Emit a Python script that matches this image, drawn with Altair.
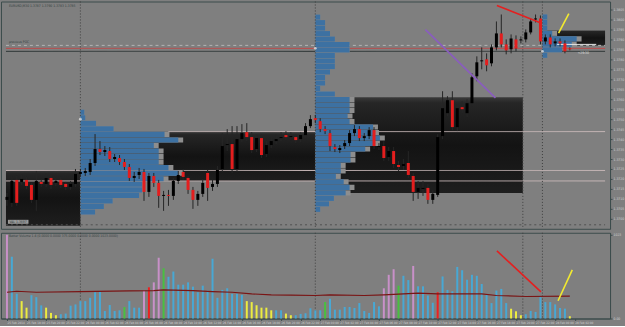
import altair as alt
import pandas as pd

BG = "#7f7f7f"

# ---------------- candle data (M30 bars) ----------------
opens = [1.37095,1.37080,1.37195,1.37185,1.37195,1.37170,1.37095,1.37185,1.37175,1.37205,
1.37180,1.37195,1.37175,1.37160,1.37175,1.37225,1.37230,1.37235,1.37280,1.37350,
1.37335,1.37340,1.37300,1.37305,1.37285,1.37260,1.37205,1.37220,1.37235,1.37135,
1.37215,1.37180,1.37115,1.37120,1.37115,1.37190,1.37235,1.37205,1.37145,1.37095,
1.37125,1.37230,1.37160,1.37175,1.37250,1.37370,1.37375,1.37250,1.37400,1.37435,
1.37410,1.37350,1.37405,1.37325,1.37370,1.37390,1.37405,1.37420,1.37410,1.37410,
1.37400,1.37420,1.37465,1.37505,1.37490,1.37450,1.37430,1.37360,1.37345,1.37365,
1.37380,1.37430,1.37450,1.37405,1.37415,1.37445,1.37360,1.37365,1.37310,1.37340,
1.37270,1.37265,1.37280,1.37215,1.37135,1.37150,1.37155,1.37095,1.37120,1.37415,
1.37530,1.37595,1.37460,1.37560,1.37530,1.37580,1.37715,1.37790,1.37800,1.37780,
1.37860,1.37930,1.37875,1.37850,1.37900,1.37895,1.37900,1.37935,1.38000,1.38005,
1.37890,1.37910,1.37880,1.37890,1.37880,1.37855]
highs = [1.37130,1.37210,1.37215,1.37220,1.37210,1.37180,1.37240,1.37200,1.37225,1.37230,
1.37205,1.37210,1.37185,1.37190,1.37250,1.37250,1.37255,1.37300,1.37425,1.37390,
1.37365,1.37360,1.37325,1.37320,1.37300,1.37275,1.37235,1.37255,1.37250,1.37230,
1.37230,1.37195,1.37140,1.37145,1.37205,1.37240,1.37250,1.37215,1.37160,1.37140,
1.37200,1.37245,1.37195,1.37265,1.37430,1.37450,1.37465,1.37465,1.37475,1.37480,
1.37435,1.37425,1.37425,1.37390,1.37410,1.37425,1.37435,1.37440,1.37435,1.37425,
1.37435,1.37480,1.37520,1.37520,1.37505,1.37465,1.37445,1.37375,1.37370,1.37395,
1.37445,1.37470,1.37465,1.37430,1.37460,1.37460,1.37380,1.37390,1.37360,1.37360,
1.37290,1.37300,1.37340,1.37230,1.37190,1.37190,1.37175,1.37145,1.37425,1.37640,
1.37615,1.37640,1.37575,1.37590,1.37600,1.37730,1.37815,1.37860,1.37830,1.37875,
1.37990,1.38025,1.37900,1.37925,1.37920,1.37915,1.37950,1.38005,1.38025,1.38020,
1.37925,1.37925,1.37905,1.37905,1.37895,1.37860]
lows = [1.37065,1.37060,1.37065,1.37170,1.37150,1.37080,1.37040,1.37160,1.37160,1.37150,
1.37165,1.37155,1.37145,1.37145,1.37160,1.37210,1.37215,1.37220,1.37265,1.37320,
1.37315,1.37285,1.37285,1.37270,1.37245,1.37190,1.37185,1.37200,1.37090,1.37110,
1.37160,1.37055,1.37040,1.37065,1.37095,1.37175,1.37195,1.37125,1.37050,1.37065,
1.37110,1.37090,1.37140,1.37160,1.37235,1.37340,1.37230,1.37235,1.37385,1.37390,
1.37330,1.37335,1.37305,1.37310,1.37355,1.37375,1.37390,1.37395,1.37395,1.37380,
1.37385,1.37405,1.37455,1.37480,1.37435,1.37425,1.37340,1.37335,1.37330,1.37350,
1.37365,1.37415,1.37390,1.37390,1.37400,1.37350,1.37345,1.37290,1.37290,1.37255,
1.37240,1.37245,1.37205,1.37090,1.37100,1.37115,1.37075,1.37075,1.37110,1.37400,
1.37515,1.37445,1.37440,1.37530,1.37510,1.37565,1.37690,1.37750,1.37740,1.37765,
1.37845,1.37860,1.37825,1.37830,1.37840,1.37880,1.37885,1.37925,1.37985,1.37875,
1.37875,1.37860,1.37865,1.37865,1.37830,1.37845]
closes = [1.37110,1.37190,1.37080,1.37200,1.37165,1.37095,1.37190,1.37175,1.37205,1.37170,
1.37190,1.37170,1.37160,1.37175,1.37225,1.37235,1.37240,1.37280,1.37350,1.37335,
1.37345,1.37300,1.37310,1.37285,1.37260,1.37205,1.37215,1.37235,1.37135,1.37215,
1.37180,1.37115,1.37120,1.37115,1.37190,1.37220,1.37210,1.37145,1.37095,1.37125,
1.37180,1.37155,1.37175,1.37245,1.37365,1.37375,1.37250,1.37400,1.37430,1.37410,
1.37345,1.37405,1.37320,1.37370,1.37390,1.37400,1.37410,1.37410,1.37415,1.37395,
1.37420,1.37465,1.37500,1.37495,1.37450,1.37440,1.37365,1.37350,1.37355,1.37380,
1.37430,1.37450,1.37405,1.37415,1.37445,1.37365,1.37365,1.37305,1.37340,1.37275,
1.37260,1.37275,1.37220,1.37135,1.37155,1.37155,1.37095,1.37125,1.37410,1.37555,
1.37595,1.37460,1.37555,1.37550,1.37580,1.37710,1.37785,1.37795,1.37770,1.37860,
1.37930,1.37875,1.37845,1.37905,1.37855,1.37900,1.37935,1.37990,1.38005,1.37890,
1.37910,1.37875,1.37890,1.37880,1.37840,1.37850]

# ---------------- volume data ----------------
volumes = [1020,752,300,212,132,284,260,160,132,68,
40,52,60,156,172,212,212,252,320,332,
92,164,92,100,140,212,132,132,340,380,
440,740,612,508,572,412,412,440,388,320,
400,340,728,252,348,368,300,300,288,212,
200,160,132,132,100,100,100,60,40,40,
56,64,124,100,100,200,240,108,108,140,
140,128,188,92,68,200,148,368,532,600,
400,520,468,640,392,392,280,192,320,512,
348,332,628,588,472,532,520,420,300,188,
340,360,188,120,88,40,52,92,80,260,
200,200,172,128,120,28]
vol_kind = (["climax"] + ["normal"] * 2 + ["low"] * 2 + ["normal"] * 3 + ["low"] * 3
            + ["normal"] * 13 + ["churn"] + ["normal"] * 3 + ["climax", "up", "climax", "climax", "churn"]
            + ["normal"] * 16 + ["low"] * 6 + ["normal"] * 2 + ["low"] * 2 + ["normal"] * 6
            + ["churn"] + ["normal"] * 11 + ["climax"] * 3 + ["churn"] + ["normal"] * 2 + ["climax"]
            + ["normal"] * 4 + ["up"] + ["normal"] * 14 + ["low"] * 3 + ["normal"] * 9 + ["low"])
vol_colors = {"normal": "#48a8d4", "low": "#ecec40", "climax": "#c890c8", "churn": "#48c040", "up": "#ee2020"}
ma_bar = [0, 2, 6, 15, 25, 30, 32, 38, 42, 46, 50, 54, 58, 63, 66, 73, 77, 81, 84, 88, 97, 100, 106, 115]
ma_val = [320, 332, 320, 328, 336, 340, 348, 340, 328, 320, 300, 288, 284, 280, 288, 280, 288, 300, 308, 300, 300, 280, 268, 272]

# ---------------- volume profiles ----------------
prof2_w = [0.8, 1, 3.2, 6.8, 17.2, 20, 15, 16, 16, 16, 18, 20, 17, 12.6, 12.6, 12, 6.6, 4.8, 3]
prof3_w = [1, 2, 2, 3, 4, 7, 7, 4, 4, 4, 3, 2, 2, 1, 4, 7, 7, 7, 6.6, 7, 11.8, 12, 13.2, 12.2,
           10.2, 7.2, 7.2, 5.2, 5.2, 4.2, 5.8, 7, 6.2, 3.8, 2.8, 1]
prof4_w = [1, 1, 1, 2, 7, 6, 4, 1]
profiles = [
    # start bar, top price, row step, widths, value-area rows
    (15.0, 1.375485, 0.000278, prof2_w, range(4, 13)),
    (63.0, 1.380255, 0.0002755, prof3_w, range(15, 33)),
    (109.4, 1.380265, 0.000275, prof4_w, range(3, 6)),
]

# value-area boxes: x start, x end, price high, price low
boxes_x1 = [-0.2, 15.0, 63.0, 109.4]
boxes_x2 = [15.0, 63.0, 105.4, 122.2]
boxes_hi = [1.37245, 1.37437, 1.37610, 1.37945]
boxes_lo = [1.36965, 1.37190, 1.37130, 1.37870]

# horizontal levels: price, from bar, colour, dash
levels_def = [
    (1.37870, -0.2, "#b4b4b4", [3, 3]),
    (1.37855, -0.2, "#c04848", [1, 0]),
    (1.37840, -0.2, "#2e3636", [1, 0]),
    (1.374375, 33.0, "#c8b8b8", [1, 0]),
    (1.372425, -0.2, "#c8b8b8", [1, 0]),
    (1.37190, -0.2, "#c8b8b8", [1, 0]),
    (1.36970, -0.2, "#505050", [2, 3]),
]
bid_seg = (112.4, 120.4, 1.37875)

sep_bars = [15.0, 63.0, 105.4, 109.4]

# trend lines (price panel): colour -> (bars, prices)
price_tl = {"#e42020": ([100.1, 109.1], [1.38070, 1.37982]),
            "#f2ea30": ([114.8, 112.7], [1.38029, 1.37932]),
            "#8a5cc0": ([85.5, 99.8], [1.37949, 1.37607])}
vol_tl = {"#e42020": ([100.1, 109.1], [824, 324]),
          "#f2ea30": ([115.5, 112.6], [592, 216])}

price_ticks = [1.3700 + 0.0005 * k for k in range(22)]
time_labels = ["25 Feb 2014", "25 Feb 18:00", "25 Feb 20:00", "25 Feb 22:00", "26 Feb 00:00", "26 Feb 02:00",
               "26 Feb 04:00", "26 Feb 06:00", "26 Feb 08:00", "26 Feb 10:00", "26 Feb 12:00", "26 Feb 14:00",
               "26 Feb 16:00", "26 Feb 18:00", "26 Feb 20:00", "26 Feb 22:00", "27 Feb 00:00", "27 Feb 02:00",
               "27 Feb 04:00", "27 Feb 06:00", "27 Feb 08:00", "27 Feb 10:00", "27 Feb 12:00", "27 Feb 14:00",
               "27 Feb 16:00", "27 Feb 18:00", "27 Feb 20:00", "27 Feb 22:00", "28 Feb 00:00", "28 Feb 02:00"]

FONT = "DejaVu Sans Condensed"
FS = 3.4

# ---------------- frames ----------------
n = len(opens)
cdf = pd.DataFrame({"i": list(range(n)), "o": opens, "h": highs, "l": lows, "c": closes})
up = cdf[cdf["c"] >= cdf["o"]]
dn = cdf[cdf["c"] < cdf["o"]]
vdf = pd.DataFrame({"i": list(range(n)), "v": volumes, "k": vol_kind})
madf = pd.DataFrame({"i": ma_bar, "v": ma_val})

rows = []
for start, top, step, widths, va in profiles:
    for k, w in enumerate(widths):
        rows.append({"x1": start, "x2": start + w, "xg": start + w + (1.0 if k in va else 0.0),
                     "y1": top - k * step - 0.00001, "y2": top - (k + 1) * step + 0.00001})
pdf = pd.DataFrame(rows)
bdf = pd.DataFrame({"x1": boxes_x1, "x2": boxes_x2, "hi": boxes_hi, "lo": boxes_lo})
sdf = pd.DataFrame({"x": sep_bars})

XS = alt.Scale(domain=[-0.2, 122.2], nice=False, zero=False)
PS = alt.Scale(domain=[1.3695, 1.3809], nice=False, zero=False)
VS = alt.Scale(domain=[0, 1044], nice=False)

paxis = alt.Axis(orient="right", values=price_ticks, format=".4f", labelFontSize=FS, labelColor="#d4d4d4",
                 tickSize=2, tickColor="#3c4c4c", domainColor="#3c4c4c", labelPadding=1, grid=False,
                 title=None, labelFont=FONT)

def px(f):
    return alt.X(f, type="quantitative", scale=XS, axis=None)

def py(f):
    return alt.Y(f, type="quantitative", scale=PS, axis=paxis)

box_grad = alt.Gradient(gradient="linear", x1=0, x2=0, y1=0, y2=1,
                        stops=[alt.GradientStop(offset=0, color="#3a3a3a"),
                               alt.GradientStop(offset=0.06, color="#262626"),
                               alt.GradientStop(offset=0.5, color="#131313"),
                               alt.GradientStop(offset=1, color="#1e1e1e")])

layers = [alt.Chart(bdf).mark_rect(color=box_grad).encode(x=px("x1"), x2="x2", y=py("hi"), y2="lo")]

for p, x1, col, dash in levels_def:
    ld = pd.DataFrame({"p": [p], "x1": [x1], "x2": [122.2]})
    layers.append(alt.Chart(ld).mark_rule(color=col, strokeDash=dash, strokeWidth=1).encode(
        x=px("x1"), x2="x2", y=py("p")))

layers.append(alt.Chart(pdf).mark_rect(color="#8e8e8e").encode(x=px("x1"), x2="xg", y=py("y1"), y2="y2"))
layers.append(alt.Chart(pdf).mark_rect(color="#3d71a2").encode(x=px("x1"), x2="x2", y=py("y1"), y2="y2"))
layers.append(alt.Chart(sdf).mark_rule(color="#3e3e3e", strokeDash=[1, 2], strokeWidth=1).encode(x=px("x")))
layers.append(alt.Chart(pd.DataFrame({"x1": [bid_seg[0]], "x2": [bid_seg[1]], "p": [bid_seg[2]]})).mark_rule(
    color="#e8e8e8", strokeWidth=1).encode(x=px("x1"), x2="x2", y=py("p")))

# small label box at the bottom-left of the first value area
lab_df = pd.DataFrame({"x1": [0.2], "x2": [4.4], "hi": [1.36995], "lo": [1.36975]})
layers.append(alt.Chart(lab_df).mark_rect(color="#9a9a9a").encode(x=px("x1"), x2="x2", y=py("hi"), y2="lo"))

layers.append(alt.Chart(cdf).mark_rule(color="#262626", strokeWidth=1).encode(x=px("i"), y=py("l"), y2="h"))
layers.append(alt.Chart(up).mark_bar(size=3, color="#000000").encode(x=px("i"), y=py("o"), y2="c"))
layers.append(alt.Chart(dn).mark_bar(size=3, color="#e41e1e").encode(x=px("i"), y=py("o"), y2="c"))

for col, (xs, ps) in price_tl.items():
    layers.append(alt.Chart(pd.DataFrame({"x": xs, "p": ps})).mark_line(color=col, strokeWidth=1.6).encode(
        x=px("x"), y=py("p")))

marks_df = pd.DataFrame({"x": [15.0, 63.0, 109.4], "p": [1.37500, 1.37855, 1.37840]})
layers.append(alt.Chart(marks_df).mark_point(shape="circle", size=8, color="#f0f0f0", filled=True).encode(
    x=px("x"), y=py("p")))

txt_a = pd.DataFrame({"x": [0.4, 0.4, 0.5], "p": [1.38065, 1.37885, 1.36985],
                      "t": ["EURUSD,M30  1.3787 1.3790 1.3783 1.3785", "previous POC", "VAL 1.3697"]})
layers.append(alt.Chart(txt_a).mark_text(align="left", baseline="middle", fontSize=FS, font=FONT,
                                         color="#354040").encode(x=px("x"), y=py("p"), text="t:N"))
txt_b = pd.DataFrame({"x": [116.6], "p": [1.37830], "t": ["<29:30"]})
layers.append(alt.Chart(txt_b).mark_text(align="left", baseline="middle", fontSize=FS, font=FONT,
                                         color="#e0e0e0").encode(x=px("x"), y=py("p"), text="t:N"))

top = alt.layer(*layers).properties(width=611, height=228)

# ---------------- volume panel ----------------
xaxis = alt.Axis(values=[4 * k for k in range(30)], labelExpr="datum.value < 120 ? " + str(time_labels) +
                 "[datum.value / 4] : ''", labelFontSize=3.1, labelColor="#d0d0d0", tickSize=2,
                 tickColor="#3c4c4c", domainColor="#3c4c4c", labelPadding=1, grid=False, title=None,
                 labelAlign="left", labelFont=FONT, labelOverlap=False)
vaxis = alt.Axis(orient="right", values=[0, 1023], labelExpr="datum.value == 0 ? '0.00' : '1023'",
                 labelFontSize=FS, labelColor="#d4d4d4", tickSize=2, tickColor="#3c4c4c",
                 domainColor="#3c4c4c", labelPadding=1, grid=False, title=None, labelFont=FONT)

def vx(f):
    return alt.X(f, type="quantitative", scale=XS, axis=xaxis)

def vy(f):
    return alt.Y(f, type="quantitative", scale=VS, axis=vaxis)

vlayers = [alt.Chart(sdf).mark_rule(color="#3e3e3e", strokeDash=[1, 2], strokeWidth=1).encode(x=vx("x"))]
for kind, col in vol_colors.items():
    sub = vdf[vdf["k"] == kind]
    vlayers.append(alt.Chart(sub).mark_bar(size=2, color=col).encode(x=vx("i"), y=vy("v")))
vlayers.append(alt.Chart(madf).mark_line(color="#7a1414", strokeWidth=1.2).encode(x=vx("i"), y=vy("v")))
for col, (xs, vs) in vol_tl.items():
    vlayers.append(alt.Chart(pd.DataFrame({"x": xs, "v": vs})).mark_line(color=col, strokeWidth=1.6).encode(
        x=vx("x"), y=vy("v")))
vtxt = pd.DataFrame({"x": [0.4], "v": [1000],
                     "t": ["Better Volume 1.4 (0.0000 0.0000 375.0000 0.0000 0.0000 1023.0000)"]})
vlayers.append(alt.Chart(vtxt).mark_text(align="left", baseline="middle", fontSize=FS, color="#354040",
                                         font=FONT).encode(x=vx("x"), y=vy("v"), text="t:N"))

bottom = alt.layer(*vlayers).properties(width=611, height=86)

chart = alt.vconcat(top, bottom, spacing=2).resolve_scale(x="independent").configure(
    background=BG, padding={"left": 0, "top": 0, "right": 0, "bottom": 0}
).configure_view(fill=BG, stroke="#3c4c4c", strokeWidth=1)

chart.save("out.html", embed_options={"renderer": "svg", "actions": False})
